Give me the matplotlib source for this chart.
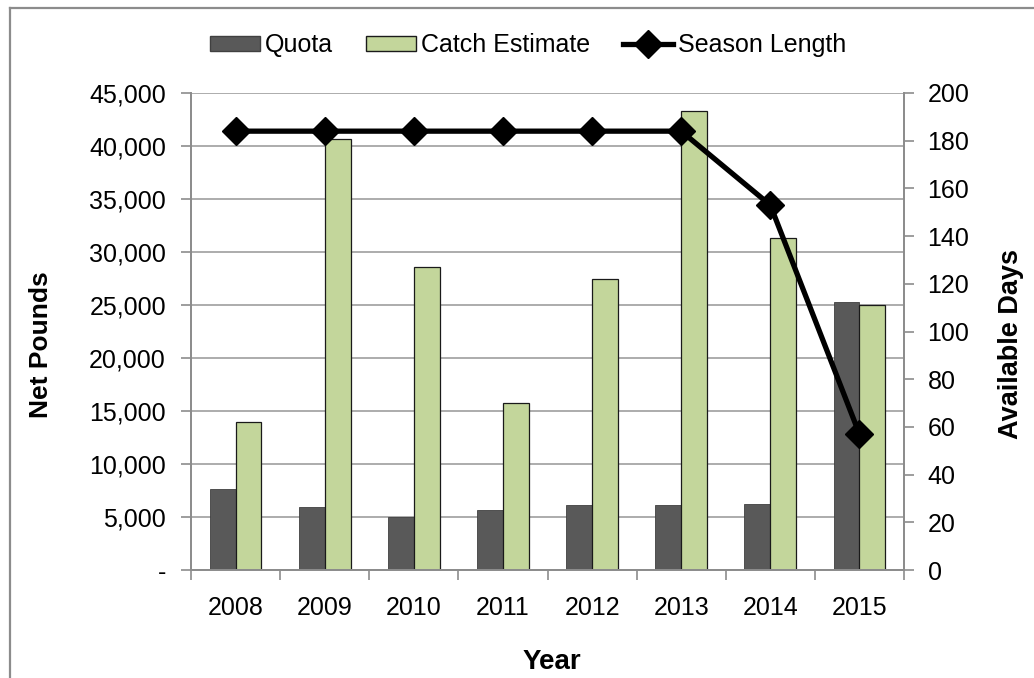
import numpy as np
import matplotlib
matplotlib.use("Agg")
import matplotlib.pyplot as plt
from matplotlib.patches import Patch
from matplotlib.lines import Line2D

plt.rcParams['font.family'] = ['Liberation Sans', 'DejaVu Sans']

# Pounds per year and season length in days
years = ['2008', '2009', '2010', '2011', '2012', '2013', '2014', '2015']
quota = [7600, 5900, 5000, 5700, 6100, 6100, 6200, 25300]
catch_estimate = [14000, 40700, 28600, 15800, 27500, 43300, 31300, 25000]
season_length = [184, 184, 184, 184, 184, 184, 153, 57]

left_ticks = [0, 5000, 10000, 15000, 20000, 25000, 30000, 35000, 40000, 45000]
left_labels = ['-', '5,000', '10,000', '15,000', '20,000', '25,000',
               '30,000', '35,000', '40,000', '45,000']
right_ticks = [0, 20, 40, 60, 80, 100, 120, 140, 160, 180, 200]

W, H = 1034, 678
fig = plt.figure(figsize=(W / 100, H / 100), dpi=100)
ax = fig.add_axes([191 / W, 1 - 570 / H, (904 - 191) / W, (570 - 93) / H])
ax2 = ax.twinx()

grey = '#8C8C8C'
x = np.arange(len(years))
bw = 0.29

ax.bar(x - bw / 2, quota, bw, color='#595959', edgecolor='#404040',
       linewidth=0.6, zorder=2)
ax.bar(x + bw / 2, catch_estimate, bw, color='#C3D69B', edgecolor='#1A1A1A',
       linewidth=0.9, zorder=2)

ax2.plot(x, season_length, color='black', linewidth=3.8, marker='D',
         markersize=14, zorder=3)

ax.set_xlim(-0.5, len(years) - 0.5)
ax.set_ylim(0, 45000)
ax2.set_ylim(0, 200)

ax.set_yticks(left_ticks)
ax.set_yticklabels(left_labels)
ax2.set_yticks(right_ticks)

ax.yaxis.grid(True, color='#A6A6A6', linewidth=1.3, zorder=0)
ax.set_axisbelow(True)

# category ticks sit on the boundaries between years
ax.set_xticks(x)
ax.set_xticklabels(years)
ax.set_xticks(np.arange(-0.5, len(years)), minor=True)
ax.tick_params(axis='x', which='major', length=0, pad=19, labelsize=18)
ax.tick_params(axis='x', which='minor', length=7, width=1.2, color=grey)
ax.tick_params(axis='y', length=7, width=1.2, color=grey, pad=11, labelsize=18)
ax2.tick_params(axis='y', length=7, width=1.2, color=grey, pad=10, labelsize=18)

for a in (ax, ax2):
    for side in ('left', 'right', 'bottom'):
        a.spines[side].set_color(grey)
        a.spines[side].set_linewidth(1.3)
    a.spines['top'].set_visible(False)

fig.text(41 / W, 1 - 345 / H, 'Net Pounds', rotation=90, ha='center',
         va='center', fontsize=19, fontweight='bold')
fig.text(1011 / W, 1 - 344 / H, 'Available Days', rotation=90, ha='center',
         va='center', fontsize=19.5, fontweight='bold')
fig.text(552 / W, 1 - 662 / H, 'Year', ha='center', va='center',
         fontsize=20, fontweight='bold')

handles = [
    Patch(facecolor='#595959', edgecolor='#404040', label='Quota'),
    Patch(facecolor='#C3D69B', edgecolor='#1A1A1A', label='Catch Estimate'),
    Line2D([], [], color='black', linewidth=3.8, marker='D', markersize=14,
           label='Season Length'),
]
fig.legend(handles=handles, loc='center', bbox_to_anchor=(528 / W, 1 - 45 / H),
           ncol=3, frameon=False, fontsize=18, handlelength=2.0,
           handleheight=0.55, handletextpad=0.2, columnspacing=1.3,
           borderpad=0.2)

# chart frame, clipped at the right and bottom edges
fig.add_artist(Line2D([10 / W, 10 / W], [0, 1 - 8 / H], color=grey,
                      linewidth=1.6, transform=fig.transFigure))
fig.add_artist(Line2D([10 / W, 1], [1 - 8 / H, 1 - 8 / H], color=grey,
                      linewidth=1.6, transform=fig.transFigure))

fig.savefig('out.png', dpi=100)
